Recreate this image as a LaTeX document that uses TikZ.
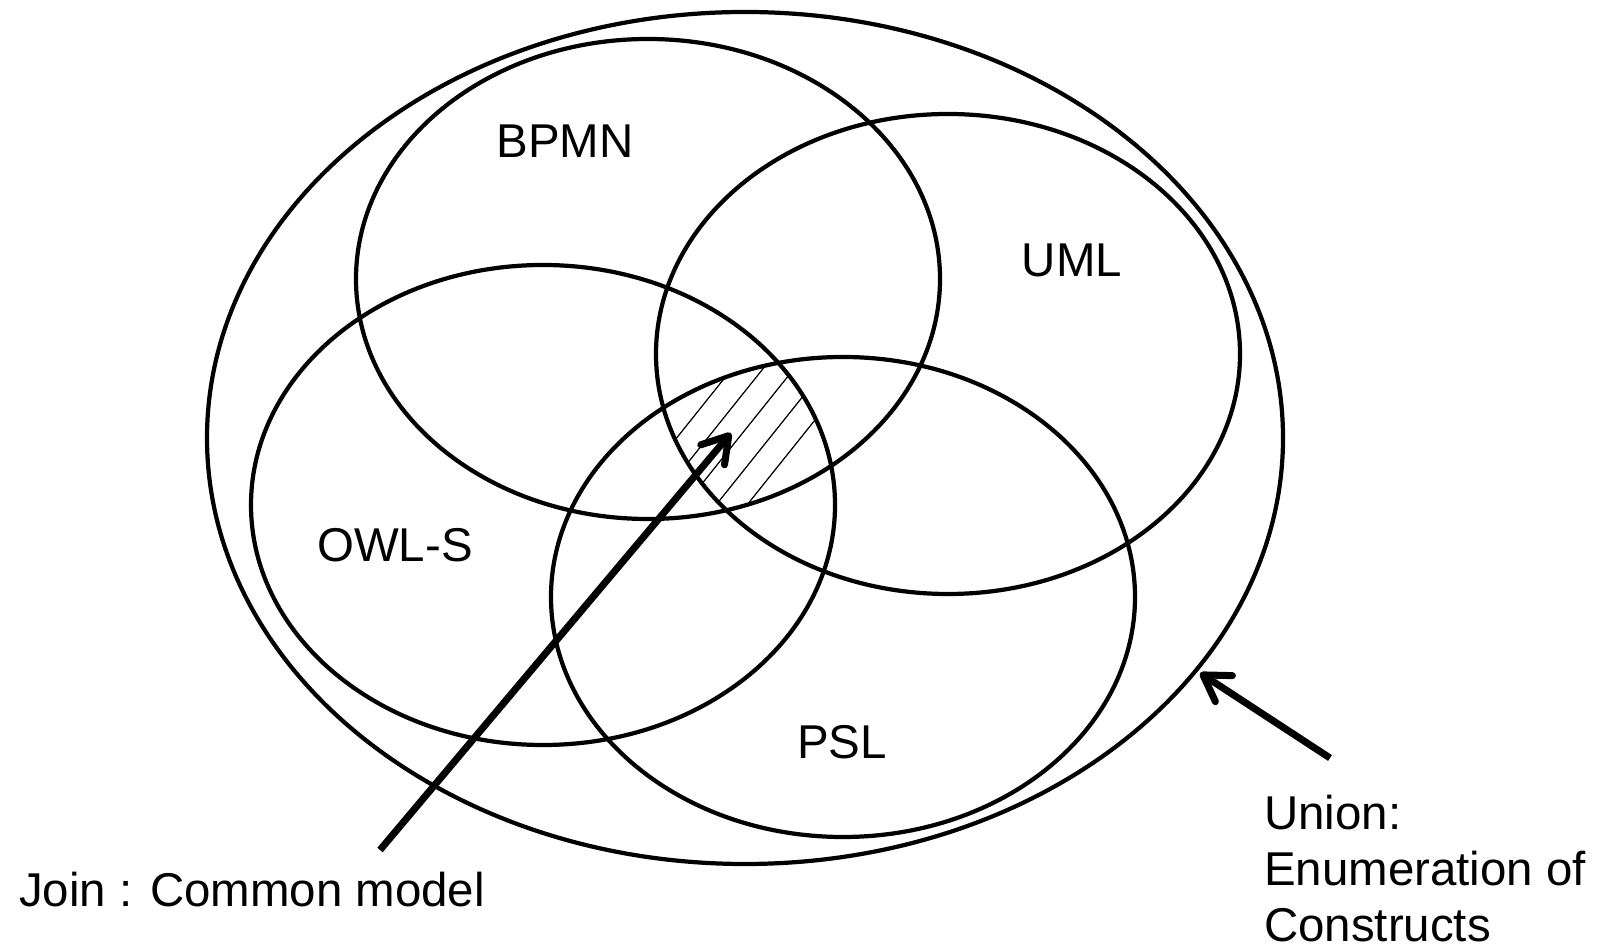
\documentclass[tikz,border=0pt]{standalone}
\usepackage{fontspec}
\setmainfont{Liberation Sans}
\usetikzlibrary{arrows.meta}
\usetikzlibrary{positioning}

\tikzset{
    pointer/.style = {line width = 4pt, -{Straight Barb[length = 0.5cm, width = 0.62cm, round]}},
    hatch/.style = {line width = 0.7pt},
    setname/.style = {font = \fontsize{27}{31.9}\selectfont, inner sep = 0pt}
}

\begin{document}
\begin{tikzpicture}[black, line width = 2.4pt]

    \useasboundingbox (0,0) rectangle (32.08,19);

    %\draw[help lines, opacity = 0.1] (0,0) grid (32,19);

    % centres of the sets
    \coordinate (all) at (14.9,10.24);
    \coordinate (B) at (12.96,13.42);
    \coordinate (U) at (18.96,11.92);
    \coordinate (O) at (10.86,8.9);
    \coordinate (P) at (16.86,7.06);

    \draw (all) ellipse [x radius = 10.76, y radius = 8.52];
    \draw (B) ellipse [x radius = 5.84, y radius = 4.8];
    \draw (U) ellipse [x radius = 5.84, y radius = 4.8];
    \draw (O) ellipse [x radius = 5.84, y radius = 4.8];
    \draw (P) ellipse [x radius = 5.84, y radius = 4.8];

    % common part of the four
    \begin{scope}
        \clip (B) ellipse [x radius = 5.84, y radius = 4.8];
        \clip (U) ellipse [x radius = 5.84, y radius = 4.8];
        \clip (O) ellipse [x radius = 5.84, y radius = 4.8];
        \clip (P) ellipse [x radius = 5.84, y radius = 4.8];
        \foreach \x in {12.22, 12.84, 13.46, 14.08, 14.7}
            \draw[hatch] (\x,8.6) -- ++(3.2,4);
    \end{scope}

    \node (bpmn) at (11.3,15.84) [setname, anchor = base] {BPMN};
    \node (uml) at (21.44,13.46) [setname, anchor = base] {UML};
    \node (owls) at (7.9,7.76) [setname, anchor = base] {OWL-S};
    \node (psl) at (16.84,3.82) [setname, anchor = base] {PSL};

    \node (join) at (0.34,0.86) [setname, anchor = base west] {Join : Common model};
    \node (union) at (25.24,0.16) [setname, anchor = base west, align = left] {Union:\\Enumeration of\\Constructs};

    \coordinate (jointail) at (7.6,2.0);
    \coordinate (jointip) at (14.62,10.34);
    \coordinate (uniontail) at (26.6,3.84);
    \coordinate (uniontip) at (24.0,5.54);

    \draw[pointer] (jointail) -- (jointip);
    \draw[pointer] (uniontail) -- (uniontip);

\end{tikzpicture}
\end{document}
